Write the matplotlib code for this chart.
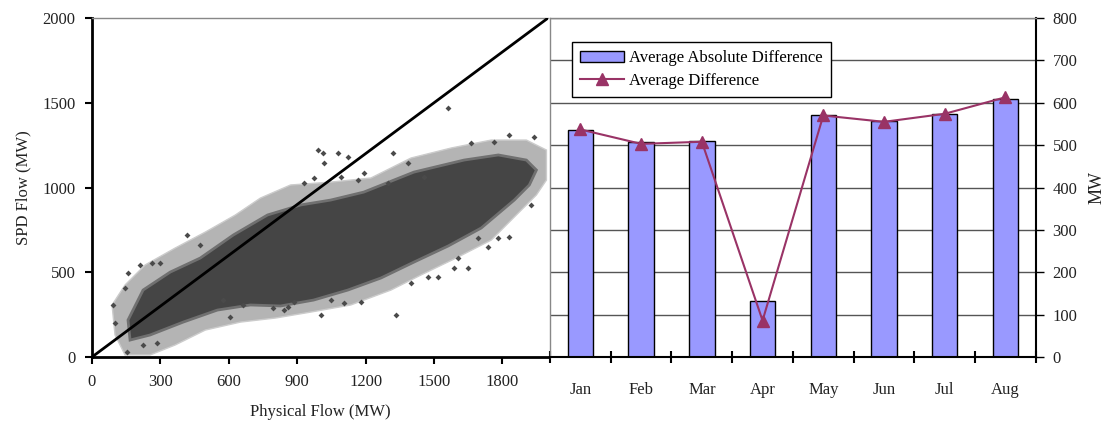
import matplotlib
matplotlib.use("Agg")
import matplotlib.pyplot as plt
from matplotlib.patches import Polygon

plt.rcParams['font.family'] = ['Liberation Serif', 'DejaVu Serif']
plt.rcParams['font.size'] = 12

# ---- scatter panel: physical vs SPD flow (MW) ----
# dense core of the point cloud (outline, clockwise)
core_phys = [158, 224, 343, 475, 620, 770, 915, 1047, 1192, 1412, 1632, 1782, 1905, 1949,
             1918, 1852, 1707, 1562, 1412, 1267, 1122, 972, 827, 695, 550, 400, 255, 167]
core_spd = [218, 395, 501, 584, 720, 838, 897, 926, 973, 1091, 1162, 1192, 1162, 1103,
            1015, 926, 761, 655, 560, 466, 395, 336, 301, 307, 277, 206, 130, 100]

# sparser fringe around the core
fringe_phys = [88, 145, 233, 365, 497, 629, 739, 871, 1047, 1223, 1399, 1575, 1751, 1905, 1993,
               1993, 1949, 1861, 1751, 1597, 1443, 1311, 1135, 959, 805, 651, 497, 365, 255, 145, 101]
fringe_spd = [307, 425, 543, 643, 737, 838, 938, 1015, 1032, 1056, 1174, 1233, 1280, 1280, 1221,
              1044, 956, 838, 690, 584, 484, 395, 307, 265, 230, 206, 159, 71, 12, 12, 130]

# scattered points outside the cloud
out_phys = [92, 145, 211, 264, 299, 158, 418, 475, 607, 664, 796, 840, 101, 154, 224, 286, 576,
            990, 1012, 1078, 1122, 1320, 1016, 1192, 1298, 1386, 1456, 928, 972, 1091, 1166,
            1830, 1940, 1764, 1663, 1927, 1830, 1782, 1650, 1588, 1518, 1474, 1399, 1333, 1179,
            1047, 1104, 884, 1003, 858, 1694, 1738, 1606, 1562]
out_spd = [307, 407, 543, 555, 555, 496, 720, 661, 236, 307, 289, 277, 201, 30, 71, 83, 336,
           1221, 1203, 1203, 1180, 1203, 1145, 1086, 1027, 1145, 1062, 1027, 1056, 1062, 1044,
           1310, 1298, 1268, 1262, 897, 708, 702, 525, 525, 472, 472, 437, 248, 324,
           336, 319, 324, 248, 295, 702, 649, 584, 1469]

diag = [0, 2000]
x_ticks = [0, 300, 600, 900, 1200, 1500, 1800]
y_ticks = [0, 500, 1000, 1500, 2000]

# ---- bar panel: monthly differences (MW) ----
months = ['Jan', 'Feb', 'Mar', 'Apr', 'May', 'Jun', 'Jul', 'Aug']
avg_abs_diff = [535, 507, 510, 133, 570, 556, 573, 610]
avg_diff = [537, 503, 508, 86, 570, 555, 574, 613]

fig = plt.figure(figsize=(11.15, 4.24), dpi=100)
ax1 = fig.add_axes([0.0825, 0.158, 0.409, 0.7995])
ax2 = fig.add_axes([0.4933, 0.158, 0.4357, 0.7995])

# left panel
ax1.add_patch(Polygon(list(zip(fringe_phys, fringe_spd)), closed=True,
                      facecolor='#b4b4b4', edgecolor='#cccccc', lw=1, zorder=1))
ax1.add_patch(Polygon(list(zip(core_phys, core_spd)), closed=True,
                      facecolor='#454545', edgecolor='#707070', lw=2, zorder=2))
ax1.scatter(out_phys, out_spd, s=9, marker='D', color='#4a4a4a', linewidths=0, zorder=3)
ax1.plot(diag, diag, color='black', lw=2, zorder=4)
ax1.set_xlim(0, 2000)
ax1.set_ylim(0, 2000)
ax1.set_xticks(x_ticks)
ax1.set_yticks(y_ticks)
ax1.tick_params(direction='out', length=5, width=1.5, colors='black', labelcolor='#222222',
                labelsize=12, pad=7)
ax1.spines['left'].set_linewidth(2)
ax1.spines['bottom'].set_linewidth(2)
ax1.spines['top'].set_color('#888888')
ax1.spines['top'].set_linewidth(1)
ax1.spines['right'].set_visible(False)
ax1.set_xlabel('Physical Flow (MW)', color='#222222', labelpad=10)
ax1.set_ylabel('SPD Flow (MW)', color='#222222', labelpad=8)

# right panel
pos = list(range(len(months)))
ax2.set_axisbelow(True)
ax2.yaxis.grid(True, color='#555555', lw=1)
bars = ax2.bar(pos, avg_abs_diff, width=0.42, color='#9999ff', edgecolor='black', lw=1,
               label='Average Absolute Difference', zorder=2)
line, = ax2.plot(pos, avg_diff, color='#993366', lw=1.5, marker='^', ms=8,
                 label='Average Difference', zorder=3)
ax2.set_xlim(-0.5, len(months) - 0.5)
ax2.set_ylim(0, 800)
ax2.set_yticks(range(0, 801, 100))
ax2.set_xticks(pos)
ax2.set_xticklabels(months)
ax2.set_xticks([p - 0.5 for p in pos] + [len(months) - 0.5], minor=True)
ax2.tick_params(axis='x', which='major', length=0, pad=18, labelsize=12, labelcolor='#222222')
ax2.tick_params(axis='x', which='minor', direction='inout', length=9, width=1.5)
ax2.yaxis.tick_right()
ax2.yaxis.set_label_position('right')
ax2.tick_params(axis='y', direction='out', length=6, width=1, labelsize=12,
                labelcolor='#222222', pad=6)
ax2.set_ylabel('MW', color='#222222', labelpad=8, fontsize=13)
ax2.spines['left'].set_color('#888888')
ax2.spines['left'].set_linewidth(1)
ax2.spines['top'].set_color('#888888')
ax2.spines['top'].set_linewidth(1)
ax2.spines['right'].set_linewidth(1.5)
ax2.spines['bottom'].set_linewidth(1.5)

leg = ax2.legend([bars, line], ['Average Absolute Difference', 'Average Difference'],
                 loc='upper left', bbox_to_anchor=(0.045, 0.929), borderaxespad=0,
                 fancybox=False, framealpha=1, edgecolor='black', fontsize=12,
                 handlelength=2.6, borderpad=0.5, labelspacing=0.4, handletextpad=0.3)
leg.get_frame().set_linewidth(1)

fig.savefig('out.png', dpi=100)
